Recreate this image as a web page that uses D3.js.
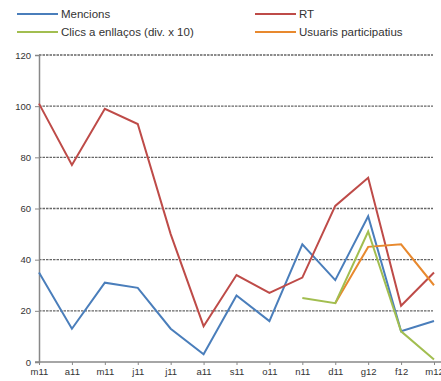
<!DOCTYPE html>
<html><head><meta charset="utf-8">
<script src="https://cdn.jsdelivr.net/npm/d3@7"></script>
<style>body{margin:0;background:#fff}svg{display:block;font-family:"Liberation Sans",Arial,sans-serif}</style>
</head><body><svg id="c" width="441" height="381"></svg>
<script>
const categories = ["m11","a11","m11","j11","j11","a11","s11","o11","n11","d11","g12","f12","m12"];
const mencions = [35,13,31,29,13,3,26,16,46,32,57,12,16];
const rt = [101,77,99,93,50,14,34,27,33,61,72,22,35];
const clics = [null,null,null,null,null,null,null,null,25,23,51,12,1];
const usuaris = [null,null,null,null,null,null,null,null,null,23,45,46,30];
const yTicks = [0,20,40,60,80,100,120];
const seriesNames = ["Mencions","RT","Clics a enllaços (div. x 10)","Usuaris participatius"];
const colors = ["#4A7EBB","#BE4B48","#A2BE50","#E8892E"];

const svg = d3.select("#c");
const x = d3.scalePoint().domain(d3.range(categories.length)).range([39,434]);
const y = d3.scaleLinear().domain([0,120]).range([362,55]);

// gridlines
svg.append("g").selectAll("line").data(yTicks.filter(d=>d>0)).join("line")
  .attr("x1",39).attr("x2",433).attr("y1",d=>y(d)).attr("y2",d=>y(d))
  .attr("stroke","#666").attr("stroke-width",1.4).attr("stroke-dasharray","2.5,1");

// y axis
const ya = svg.append("g").attr("transform","translate(39,0)")
  .call(d3.axisLeft(y).tickValues(yTicks).tickSize(4).tickPadding(4));
ya.select(".domain").attr("stroke","#888").attr("stroke-width",1.5);
ya.selectAll(".tick line").attr("stroke","#888");
ya.selectAll("text").attr("font-size",9.5).attr("fill","#333");

// x axis
const xa = svg.append("g").attr("transform","translate(0,362)")
  .call(d3.axisBottom(x).tickFormat(i=>categories[i]).tickSize(3).tickPadding(3).tickSizeOuter(0));
xa.select(".domain").attr("stroke","#888").attr("stroke-width",1.5).attr("d","M35,0H441");
xa.selectAll(".tick line").attr("stroke","#888");
xa.selectAll("text").attr("font-size",9.5).attr("fill","#333");

const all = [mencions, rt, clics, usuaris];
const line = d3.line().defined(d=>d!=null).x((d,i)=>x(i)).y(d=>y(d));
[0,1,3,2].forEach(k=>{
  svg.append("path").attr("d",line(all[k])).attr("fill","none")
    .attr("stroke",colors[k]).attr("stroke-width",2).attr("stroke-linejoin","miter");
});

// legend
const legPos = [[17,14],[255,14],[17,32],[255,32]];
seriesNames.forEach((n,k)=>{
  const [lx,ly] = legPos[k];
  svg.append("line").attr("x1",lx).attr("x2",lx+41).attr("y1",ly).attr("y2",ly)
    .attr("stroke",colors[k]).attr("stroke-width",2);
  svg.append("text").attr("x",lx+44).attr("y",ly+4).attr("font-size",11.5).attr("fill","#333").text(n);
});
</script></body></html>
